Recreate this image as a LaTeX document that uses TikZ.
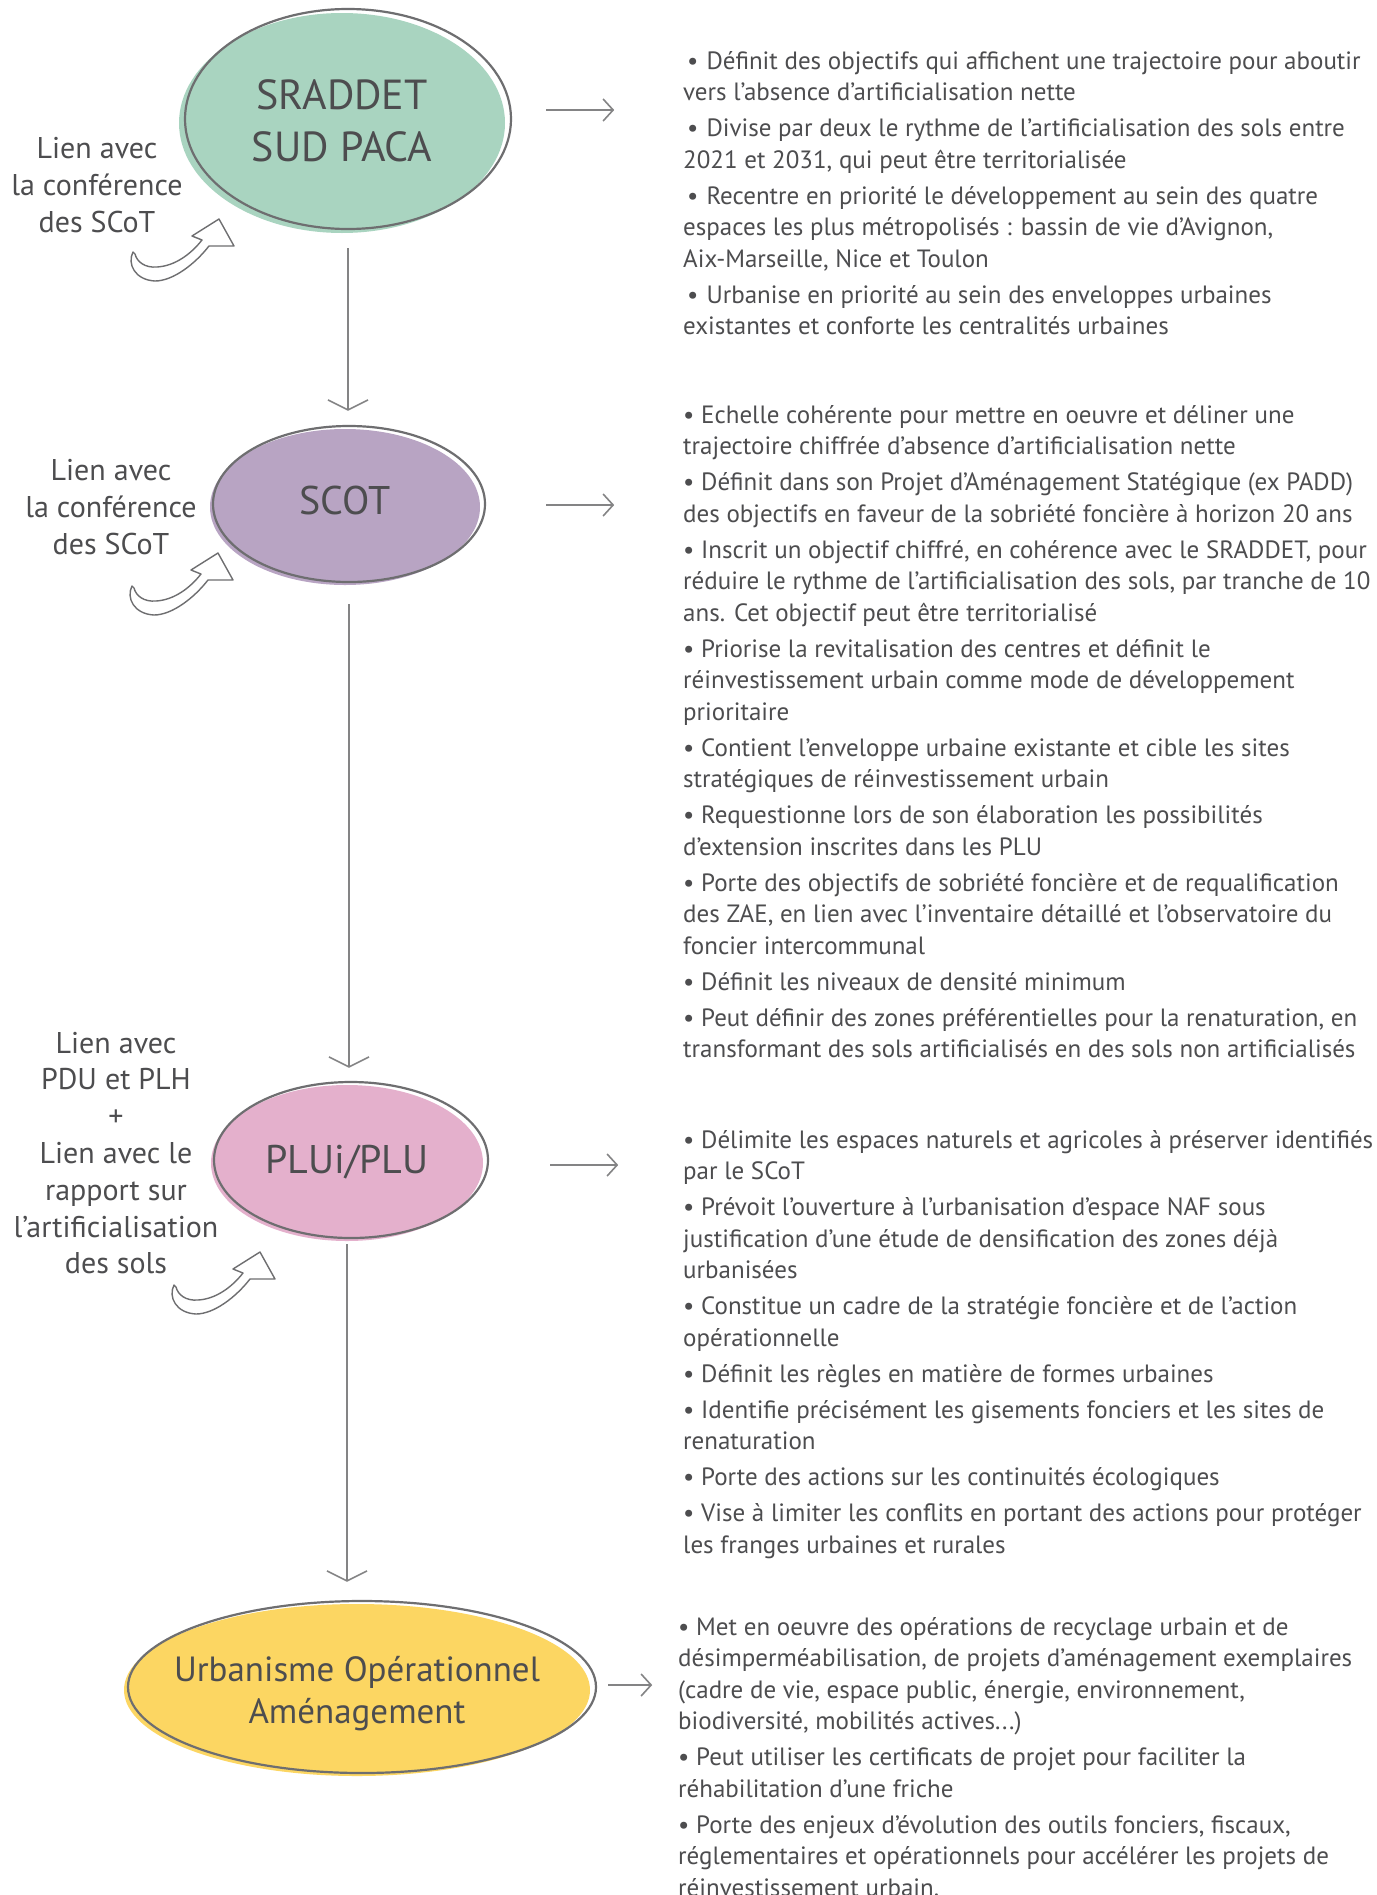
\documentclass[tikz,border=0pt]{standalone}
\usepackage{fontspec}
\setmainfont{PT Sans}
\usetikzlibrary{arrows.meta,shapes.geometric}
\definecolor{txt}{HTML}{4D4D4F}
\definecolor{lin}{HTML}{6E6E70}
\definecolor{cgreen}{HTML}{A9D4C0}
\definecolor{cpurple}{HTML}{B8A4C3}
\definecolor{cpink}{HTML}{E4B0CC}
\definecolor{cyellow}{HTML}{FCD662}
\tikzset{
  ell/.style={ellipse, inner sep=0pt, draw=none},
  etext/.style={inner sep=0pt, text=txt, align=center},
  ring/.style={draw=lin, line width=2.2pt},
  varrow/.style={draw=lin!85, line width=1.6pt, -{Straight Barb[length=10pt,width=40pt]}},
  harrow/.style={draw=lin!85, line width=1.6pt, -{Straight Barb[length=10pt,width=22pt]}},
  side/.style={text=txt, align=center, font=\fontsize{30}{36.8}\selectfont, inner sep=0pt, anchor=north},
  body/.style={text=txt, align=left, font=\fontsize{25}{31.5}\selectfont, inner sep=0pt, anchor=north west},
  swoosh/.pic={\draw[draw=lin, line width=1.4pt, fill=white, line join=round]
     (0,0) .. controls (-6,12) and (2,28) .. (22,29) .. controls (40,29) and (62,12) .. (76,-6)
     -- (101,-6) -- (86,-33) -- (59,-16) -- (69,-12)
     .. controls (58,2) and (42,14) .. (24,15) .. controls (12,16) and (4,10) .. (2,2) -- cycle;}
}
\begin{document}
\begin{tikzpicture}[x=1pt,y=-1pt]
\path[use as bounding box, fill=white] (0,0) rectangle (1376,1895);

% ellipses
\node[ell, fill=cgreen, minimum width=326pt, minimum height=220pt] (sraddet) at (342,123) {};
\draw[ring] ([shift={(6,-4)}]sraddet.center) ellipse [x radius=163, y radius=110];
\node[etext, font=\fontsize{42}{52}\selectfont] (sraddet-t) at ([yshift=2pt]sraddet.center) {SRADDET\\SUD PACA};

\node[ell, fill=cpurple, minimum width=270pt, minimum height=156pt] (scot) at (345,507) {};
\draw[ring] ([shift={(4,-3)}]scot.center) ellipse [x radius=136, y radius=78];
\node[etext, font=\fontsize{40}{52}\selectfont] (scot-t) at ([yshift=7pt]scot.center) {SCOT};

\node[ell, fill=cpink, minimum width=272pt, minimum height=156pt] (plui) at (347,1163) {};
\draw[ring] ([shift={(4,-3)}]plui.center) ellipse [x radius=137, y radius=78];
\node[etext, font=\fontsize{40}{52}\selectfont] (plui-t) at ([yshift=1pt]plui.center) {PLUi/PLU};

\node[ell, fill=cyellow, minimum width=466pt, minimum height=172pt] (urb) at (357,1690) {};
\draw[ring] ([shift={(5,-3)}]urb.center) ellipse [x radius=234, y radius=86];
\node[etext, font=\fontsize{35}{42}\selectfont] (urb-t) at ([yshift=-4pt]urb.center) {Urbanisme Opérationnel\\Aménagement};

% vertical connectors
\draw[varrow, shorten <=15pt, shorten >=18pt] ([xshift=6]sraddet.south) -- ([xshift=3]scot.north);
\draw[varrow, shorten <=19pt, shorten >=17pt] ([xshift=4]scot.south) -- ([xshift=2]plui.north);
\draw[varrow, shorten <=3pt, shorten >=22pt] (plui.south) -- ([xshift=-10]urb.north);

% horizontal arrows
\draw[harrow] ([shift={(41,-13)}]sraddet.east) -- ++(68,0);
\draw[harrow] ([shift={(66,-2)}]scot.east) -- ++(68,0);
\draw[harrow] ([shift={(67,2)}]plui.east) -- ++(68,0);
\draw[harrow] ([shift={(18,-5)}]urb.east) -- ++(44,0);

% swooshes
\pic at (133,252) {swoosh};
\pic at (132,586) {swoosh};
\pic at (174,1285) {swoosh};

% side labels
\node[side] (l1) at (97,133) {\strut Lien avec\\la conférence\\des SCoT};
\node[side] (l2) at (111,455) {\strut Lien avec\\la conférence\\des SCoT};
\node[side] (l3) at (116,1027.2) {\strut Lien avec\\PDU et PLH\\+\\Lien avec le\\rapport sur\\l’artificialisation\\des sols};

% right texts
\node[body] (t1) at (683,47) {\strut\hspace{4pt}•\hspace{8pt}Définit des objectifs qui affichent une trajectoire pour aboutir\\
vers l’absence d’artificialisation nette\\[4.5pt]
\hspace{4pt}•\hspace{8pt}Divise par deux le rythme de l’artificialisation des sols entre\\
2021 et 2031, qui peut être territorialisée\\[4.5pt]
\hspace{4pt}•\hspace{8pt}Recentre en priorité le développement au sein des quatre\\
espaces les plus métropolisés : bassin de vie d’Avignon,\\
Aix-Marseille, Nice et Toulon\\[4.5pt]
\hspace{4pt}•\hspace{8pt}Urbanise en priorité au sein des enveloppes urbaines\\
existantes et conforte les centralités urbaines};

\node[body] (t2) at (683,401) {\strut• Echelle cohérente pour mettre en oeuvre et déliner une\\
trajectoire chiffrée d’absence d’artificialisation nette\\[4.5pt]
• Définit dans son Projet d’Aménagement Statégique (ex PADD)\\
des objectifs en faveur de la sobriété foncière à horizon 20 ans\\[4.5pt]
• Inscrit un objectif chiffré, en cohérence avec le SRADDET, pour\\
réduire le rythme de l’artificialisation des sols, par tranche de 10\\
ans. Cet objectif peut être territorialisé\\[4.5pt]
• Priorise la revitalisation des centres et définit le\\
réinvestissement urbain comme mode de développement\\
prioritaire\\[4.5pt]
• Contient l’enveloppe urbaine existante et cible les sites\\
stratégiques de réinvestissement urbain\\[4.5pt]
• Requestionne lors de son élaboration les possibilités\\
d’extension inscrites dans les PLU\\[4.5pt]
• Porte des objectifs de sobriété foncière et de requalification\\
des ZAE, en lien avec l’inventaire détaillé et l’observatoire du\\
foncier intercommunal\\[4.5pt]
• Définit les niveaux de densité minimum\\[4.5pt]
• Peut définir des zones préférentielles pour la renaturation, en\\
transformant des sols artificialisés en des sols non artificialisés};

\node[body] (t3) at (683,1126) {\strut• Délimite les espaces naturels et agricoles à préserver identifiés\\
par le SCoT\\[4.5pt]
• Prévoit l’ouverture à l’urbanisation d’espace NAF sous\\
justification d’une étude de densification des zones déjà\\
urbanisées\\[4.5pt]
• Constitue un cadre de la stratégie foncière et de l’action\\
opérationnelle\\[4.5pt]
• Définit les règles en matière de formes urbaines\\[4.5pt]
• Identifie précisément les gisements fonciers et les sites de\\
renaturation\\[4.5pt]
• Porte des actions sur les continuités écologiques\\[4.5pt]
• Vise à limiter les conflits en portant des actions pour protéger\\
les franges urbaines et rurales};

\node[body] (t4) at (678,1613) {\strut• Met en oeuvre des opérations de recyclage urbain et de\\
désimperméabilisation, de projets d’aménagement exemplaires\\
(cadre de vie, espace public, énergie, environnement,\\
biodiversité, mobilités actives...)\\[4.5pt]
• Peut utiliser les certificats de projet pour faciliter la\\
réhabilitation d’une friche\\[4.5pt]
• Porte des enjeux d’évolution des outils fonciers, fiscaux,\\
réglementaires et opérationnels pour accélérer les projets de\\
réinvestissement urbain.};
\end{tikzpicture}
\end{document}
